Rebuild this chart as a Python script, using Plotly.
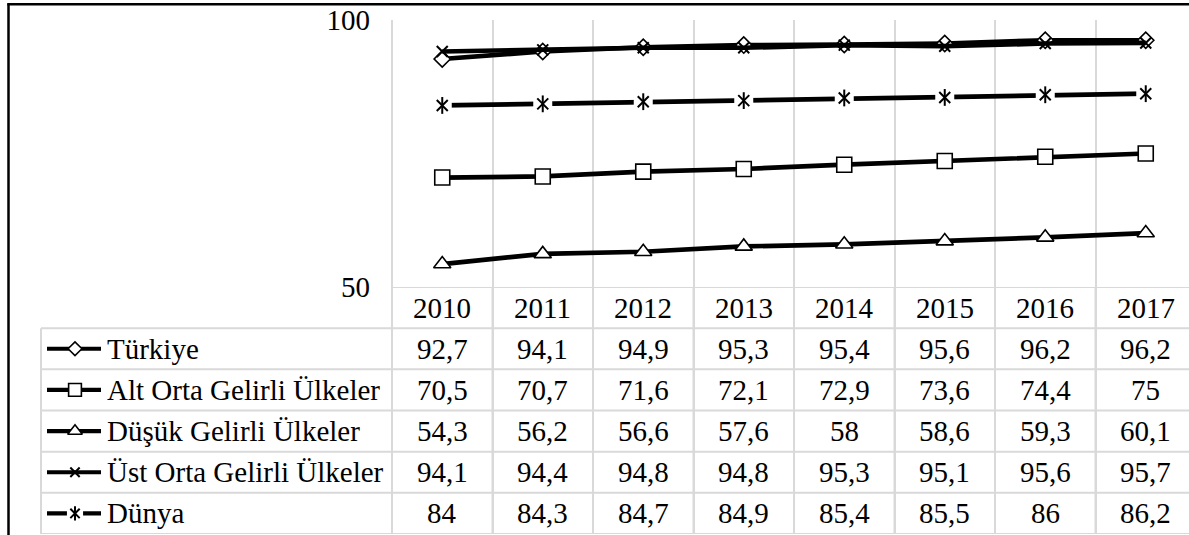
import plotly.graph_objects as go

# ---- data -------------------------------------------------------------
years = ["2010", "2011", "2012", "2013", "2014", "2015", "2016", "2017"]
series_names = [
    "Türkiye",
    "Alt Orta Gelirli Ülkeler",
    "Düşük Gelirli Ülkeler",
    "Üst Orta Gelirli Ülkeler",
    "Dünya",
]
turkiye = [92.7, 94.1, 94.9, 95.3, 95.4, 95.6, 96.2, 96.2]
alt_orta = [70.5, 70.7, 71.6, 72.1, 72.9, 73.6, 74.4, 75]
dusuk = [54.3, 56.2, 56.6, 57.6, 58, 58.6, 59.3, 60.1]
ust_orta = [94.1, 94.4, 94.8, 94.8, 95.3, 95.1, 95.6, 95.7]
dunya = [84, 84.3, 84.7, 84.9, 85.4, 85.5, 86, 86.2]
y_ticks = [50, 100]

series_values = [turkiye, alt_orta, dusuk, ust_orta, dunya]

# ---- geometry (pixels) ------------------------------------------------
W, H = 1189, 535
PLOT_LEFT = 392          # left edge of the category area
CAT_W = 100.5            # width of one category column
Y_TOP, Y_BOTTOM = 20, 287  # value axis 100 .. 50
TABLE_BOTTOM = 534
TABLE_LEFT = 41
KEY_X0, KEY_XC, KEY_X1 = 47, 75, 101
LABEL_X = 105

FONT = dict(family="Liberation Serif", size=29, color="black")
GRID = "#d9d9d9"
LINE_W = 4.7


def px_to_x(p):
    return (p - PLOT_LEFT) / CAT_W - 0.5


x_idx = list(range(len(years)))

# marker style for each series: list of (symbol, size, fill, outline, outline width)
marker_styles = [
    [("diamond", 12.5, "white", "black", 1.6)],
    [("square", 15, "white", "black", 1.6)],
    [("triangle-up", 15, "white", "black", 1.6)],
    [("x-thin", 11, "black", "black", 2)],
    [("square", 19, "white", "white", 0),
     ("x-thin", 11, "black", "black", 2),
     ("line-ns", 12, "black", "black", 2)],
]

fig = go.Figure()

# ---- chart lines ------------------------------------------------------
for name, vals, styles in zip(series_names, series_values, marker_styles):
    fig.add_trace(go.Scatter(
        x=x_idx, y=vals, mode="lines", name=name,
        line=dict(color="black", width=LINE_W),
        showlegend=False, hoverinfo="skip",
    ))
    for sym, size, fill, outline, ow in styles:
        fig.add_trace(go.Scatter(
            x=x_idx, y=vals, mode="markers", name=name,
            marker=dict(symbol=sym, size=size, color=fill,
                        line=dict(color=outline, width=ow)),
            showlegend=False, hoverinfo="skip", cliponaxis=False,
        ))

# ---- legend keys inside the data table --------------------------------
for r, (name, styles) in enumerate(zip(series_names, marker_styles)):
    row_y = r + 1.5
    fig.add_trace(go.Scatter(
        x=[px_to_x(KEY_X0), px_to_x(KEY_X1)], y=[row_y, row_y],
        mode="lines", line=dict(color="black", width=LINE_W - 0.5),
        xaxis="x", yaxis="y2", showlegend=False, hoverinfo="skip",
    ))
    for sym, size, fill, outline, ow in styles:
        k = 0.85
        fig.add_trace(go.Scatter(
            x=[px_to_x(KEY_XC)], y=[row_y], mode="markers",
            marker=dict(symbol=sym, size=size * k, color=fill,
                        line=dict(color=outline, width=ow)),
            xaxis="x", yaxis="y2", showlegend=False, hoverinfo="skip",
        ))

# ---- table text -------------------------------------------------------
annotations = []
for i, yr in enumerate(years):
    annotations.append(dict(x=i, y=0.5, xref="x", yref="y2", text=yr,
                            showarrow=False, font=FONT,
                            xanchor="center", yanchor="middle"))
for r, (name, vals) in enumerate(zip(series_names, series_values)):
    annotations.append(dict(x=px_to_x(LABEL_X), y=r + 1.5, xref="x", yref="y2",
                            text=name, showarrow=False, font=FONT,
                            xanchor="left", yanchor="middle"))
    for i, v in enumerate(vals):
        annotations.append(dict(x=i, y=r + 1.5, xref="x", yref="y2",
                                text=f"{v:g}".replace(".", ","),
                                showarrow=False, font=FONT,
                                xanchor="center", yanchor="middle"))

# ---- table rules ------------------------------------------------------
shapes = []
n_rows = len(series_names) + 1
x_right = len(years) - 0.5
shapes.append(dict(type="line", xref="x", yref="y2", x0=-0.5, x1=x_right,
                   y0=0, y1=0, line=dict(color=GRID, width=2), layer="below"))
for r in range(1, n_rows + 1):
    shapes.append(dict(type="line", xref="x", yref="y2",
                       x0=px_to_x(TABLE_LEFT), x1=x_right, y0=r, y1=r,
                       line=dict(color=GRID, width=2), layer="below"))
shapes.append(dict(type="line", xref="x", yref="y2",
                   x0=px_to_x(TABLE_LEFT), x1=px_to_x(TABLE_LEFT), y0=1, y1=n_rows,
                   line=dict(color=GRID, width=2), layer="below"))
for i in range(len(years) + 1):
    shapes.append(dict(type="line", xref="x", yref="y2",
                       x0=i - 0.5, x1=i - 0.5, y0=0, y1=n_rows,
                       line=dict(color=GRID, width=2), layer="below"))

# outer frame
shapes.append(dict(type="line", xref="paper", yref="paper",
                   x0=8.5 / W, x1=8.5 / W, y0=0, y1=1 - 3.5 / H,
                   line=dict(color="black", width=2.5)))
shapes.append(dict(type="line", xref="paper", yref="paper",
                   x0=7.3 / W, x1=1, y0=1 - 4.3 / H, y1=1 - 4.3 / H,
                   line=dict(color="black", width=2.5)))

fig.update_layout(
    width=W, height=H,
    margin=dict(l=0, r=0, t=0, b=0, pad=0, autoexpand=False),
    paper_bgcolor="white", plot_bgcolor="white",
    showlegend=False,
    font=FONT,
    xaxis=dict(
        domain=[0, 1],
        range=[px_to_x(0), px_to_x(W)],
        tickvals=[i - 0.5 for i in range(len(years) + 1)],
        showticklabels=False, ticks="",
        showgrid=True, gridcolor=GRID, gridwidth=2,
        zeroline=False, showline=False, anchor="y", automargin=False,
    ),
    yaxis=dict(
        domain=[(H - Y_BOTTOM) / H, (H - Y_TOP) / H],
        range=[50, 100],
        tickvals=y_ticks,
        ticktext=[str(t) for t in y_ticks],
        tickfont=FONT,
        ticks="", ticklabelstandoff=22,
        showgrid=False, zeroline=False, showline=False,
        anchor="free", position=PLOT_LEFT / W, automargin=False,
    ),
    yaxis2=dict(
        domain=[(H - TABLE_BOTTOM) / H, (H - Y_BOTTOM) / H],
        range=[n_rows, 0],
        visible=False, anchor="x", automargin=False,
    ),
    annotations=annotations,
    shapes=shapes,
)

fig.write_html("out.html")
